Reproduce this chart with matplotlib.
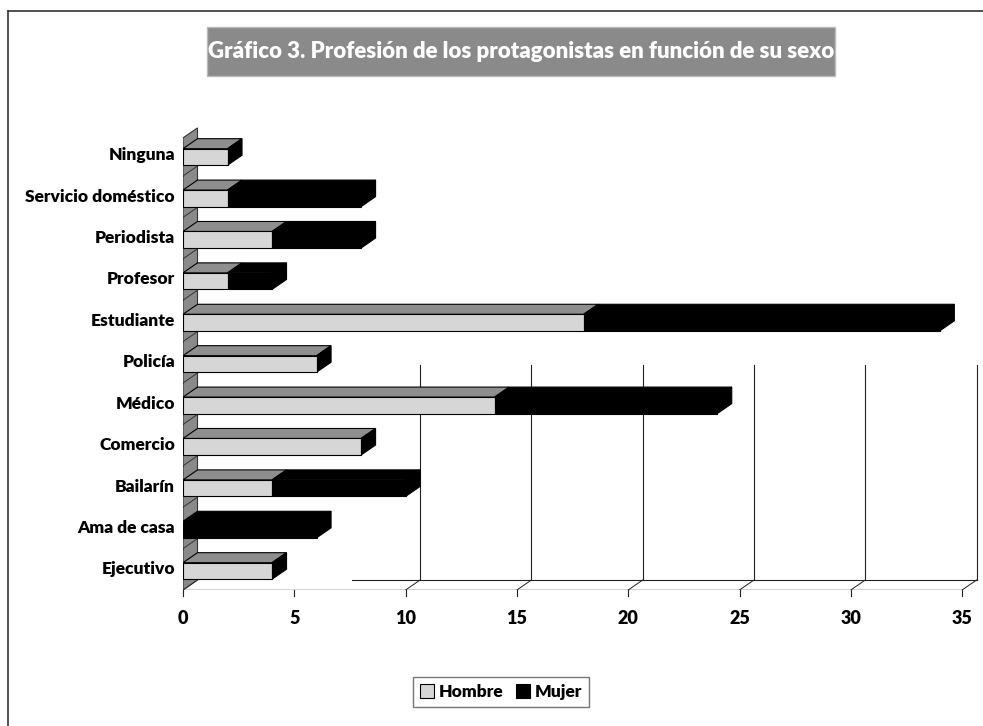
import matplotlib
matplotlib.use("Agg")
import matplotlib.pyplot as plt
from matplotlib.patches import Polygon, Rectangle, Patch
from matplotlib.lines import Line2D

plt.rcParams['font.family'] = ['Lato', 'DejaVu Sans']
plt.rcParams['font.weight'] = 'heavy'

# ---------------- data ----------------
categories = ["Ejecutivo", "Ama de casa", "Bailarín", "Comercio", "Médico", "Policía",
              "Estudiante", "Profesor", "Periodista", "Servicio doméstico", "Ninguna"]
hombre = [4, 0, 4, 8, 14, 6, 18, 2, 4, 2, 2]
mujer = [0, 6, 6, 0, 10, 0, 16, 2, 4, 6, 0]
xticks = [0, 5, 10, 15, 20, 25, 30, 35]
series_names = ["Hombre", "Mujer"]
title = "Gráfico 3. Profesión de los protagonistas en función de su sexo"

# ---------------- figure ----------------
W, H = 983, 726
fig = plt.figure(figsize=(W / 100, H / 100), dpi=100)

px_x = 22.26   # pixels per x unit
px_y = 41.4    # pixels per category
x0_px, y0_px = 183, 590   # pixel of (0, -0.5)
right_px, top_px = 983, 118
xmax = (right_px - x0_px) / px_x
ymax = -0.5 + (y0_px - top_px) / px_y
ax = fig.add_axes([x0_px / W, (H - y0_px) / H, (right_px - x0_px) / W, (y0_px - top_px) / H])
ax.set_xlim(0, xmax)
ax.set_ylim(-0.5, ymax)
ax.axis('off')

dx = 14.5 / px_x   # depth offset in x units
dy = 10.0 / px_y   # depth offset in y units
bh = 0.40          # front face height
off = -0.04        # front face center offset

c_front = "#d6d6d6"
c_top = "#8e8e8e"
c_wall = "#8a8a8a"
lw = 0.8
FW = 'heavy'

n = len(categories)
# left wall
wall_top = n - 0.5 - 0.08
ax.add_patch(Polygon([(0, -0.5), (dx, -0.5 + dy), (dx, wall_top + dy), (0, wall_top)],
                     closed=True, facecolor=c_wall, edgecolor="#333333", lw=lw, zorder=1))
for k in range(n + 1):
    yb = k - 0.5
    if yb <= wall_top:
        ax.plot([0, dx], [yb, yb + dy], color="#333333", lw=0.7, zorder=1.5)
        ax.plot([-0.25, 0], [yb, yb], color="#333333", lw=0.7, zorder=1.5)

# back gridlines and floor
grid_top = 4.93
floor_start = 7.6
for v in xticks[2:]:
    ax.plot([v + dx, v + dx], [-0.5 + dy, grid_top], color="#222222", lw=0.8, zorder=0.5)
ax.plot([floor_start, xticks[-1] + dx], [-0.5 + dy, -0.5 + dy], color="#222222", lw=0.8, zorder=0.5)
ax.plot([0, xticks[-1]], [-0.5, -0.5], color="#222222", lw=1.0, zorder=2)
for v in xticks:
    if v > floor_start:
        ax.plot([v, v + dx], [-0.5, -0.5 + dy], color="#222222", lw=0.7, zorder=0.6)
    ax.plot([v, v], [-0.5, -0.5 - 6 / px_y], color="#222222", lw=0.8, zorder=2, clip_on=False)
    ax.text(v, -0.5 - 28 / px_y, str(v), ha='center', va='center', fontsize=13,
            fontweight=FW, color='black', clip_on=False)

# bars
ys = [i + off for i in range(n)]
ax.barh(ys, hombre, height=bh, color=c_front, edgecolor="black", lw=lw, zorder=5)
ax.barh(ys, mujer, left=hombre, height=bh, color="black", edgecolor="black", lw=lw, zorder=5)
for i in range(n):
    h, m = hombre[i], mujer[i]
    yt = ys[i] + bh / 2
    yb = ys[i] - bh / 2
    if h > 0:
        ax.add_patch(Polygon([(0, yt), (dx, yt + dy), (h + dx, yt + dy), (h, yt)], closed=True,
                             facecolor=c_top, edgecolor="black", lw=lw, zorder=4))
    if m > 0:
        ax.add_patch(Polygon([(h, yt), (h + dx, yt + dy), (h + m + dx, yt + dy), (h + m, yt)],
                             closed=True, facecolor="black", edgecolor="black", lw=lw, zorder=4))
    tot = h + m
    ax.add_patch(Polygon([(tot, yb), (tot, yt), (tot + dx, yt + dy), (tot + dx, yb + dy)],
                         closed=True, facecolor="black", edgecolor="black", lw=lw, zorder=4))

# category labels
for i, c in enumerate(categories):
    ax.text(-8 / px_x, i, c, ha='right', va='center', fontsize=12.5, fontweight=FW,
            color='black', clip_on=False)

# title box
fig.patches.append(Rectangle((207 / W, 1 - 76 / H), (835 - 207) / W, (76 - 27) / H,
                             transform=fig.transFigure, facecolor="#8a8a8a",
                             edgecolor="#bbbbbb", lw=1.0))
fig.text(521 / W, 1 - 51 / H, title, ha='center', va='center', fontsize=16,
         fontweight=FW, color='white')

# figure border (top and left)
fig.add_artist(Line2D([8 / W, 1], [1 - 11 / H, 1 - 11 / H], transform=fig.transFigure,
                      color="#333333", lw=1.2))
fig.add_artist(Line2D([8 / W, 8 / W], [0, 1 - 11 / H], transform=fig.transFigure,
                      color="#333333", lw=1.2))

# legend
handles = [Patch(facecolor=c_front, edgecolor="black", lw=0.8),
           Patch(facecolor="black", edgecolor="black", lw=0.8)]
leg = fig.legend(handles, series_names, loc='center', bbox_to_anchor=(501 / W, 1 - 692 / H),
                 ncol=2, frameon=True, fancybox=False, edgecolor="#555555",
                 prop={'weight': FW, 'size': 12.5}, handlelength=0.8, handleheight=0.8,
                 handletextpad=0.3, columnspacing=0.7, borderpad=0.4)
leg.get_frame().set_linewidth(1.0)

fig.savefig("out.png", dpi=100, facecolor="white")
